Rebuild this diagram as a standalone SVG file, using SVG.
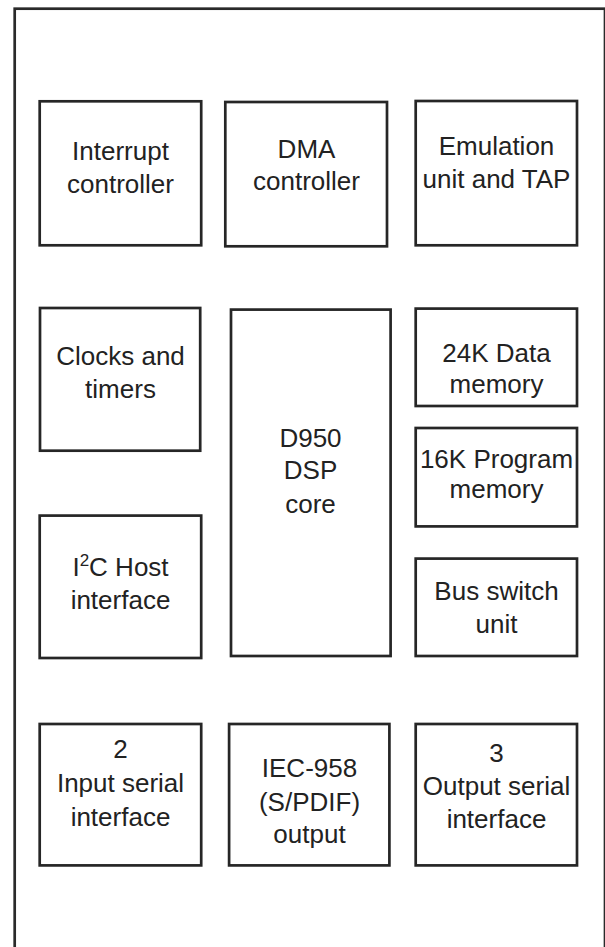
<svg xmlns="http://www.w3.org/2000/svg" width="605" height="947" viewBox="0 0 605 947">
<style>
.frame{fill:none;stroke:#2a2a2a;stroke-width:2.7}
.box{fill:#fff;stroke:#262626;stroke-width:2.7}
.t{font-family:"Liberation Sans",Arial,Helvetica,sans-serif;font-size:26px;fill:#222;text-anchor:middle}
</style>
<rect width="605" height="947" fill="#fff"/>
<rect id="frame" class="frame" x="14.7" y="8.7" width="590.3" height="1000"/>
<g id="connectors"></g>
<g id="interrupt">
<rect class="box" x="39.7" y="101.3" width="161.5" height="144"/>
<text class="t" x="120.5" y="160">Interrupt</text>
<text class="t" x="120.5" y="192.7">controller</text>
</g>
<g id="dma">
<rect class="box" x="225.3" y="102" width="161.7" height="144.3"/>
<text class="t" x="306.5" y="157.7">DMA</text>
<text class="t" x="306.5" y="190">controller</text>
</g>
<g id="emulation">
<rect class="box" x="415.7" y="101" width="161.3" height="144.3"/>
<text class="t" x="496.5" y="155">Emulation</text>
<text class="t" x="496.5" y="187.7">unit and TAP</text>
</g>
<g id="clocks">
<rect class="box" x="40" y="308" width="160.2" height="142.7"/>
<text class="t" x="120.5" y="365.3">Clocks and</text>
<text class="t" x="120.5" y="398.3">timers</text>
</g>
<g id="dsp">
<rect class="box" x="231" y="309.6" width="159.6" height="346.4"/>
<text class="t" x="310.5" y="446.7">D950</text>
<text class="t" x="310.5" y="479.3">DSP</text>
<text class="t" x="310.5" y="512.7">core</text>
</g>
<g id="data-memory">
<rect class="box" x="415.7" y="308.6" width="161.3" height="97.4"/>
<text class="t" x="496.5" y="361.5">24K Data</text>
<text class="t" x="496.5" y="392.5">memory</text>
</g>
<g id="program-memory">
<rect class="box" x="415.7" y="428" width="161.3" height="98.4"/>
<text class="t" x="496.5" y="468.3">16K Program</text>
<text class="t" x="496.5" y="498.3">memory</text>
</g>
<g id="i2c">
<rect class="box" x="39.7" y="515.6" width="161.5" height="142.4"/>
<text class="t" x="120.5" y="576">I<tspan font-size="17" dy="-10">2</tspan><tspan dy="10">C Host</tspan></text>
<text class="t" x="120.5" y="609.3">interface</text>
</g>
<g id="bus-switch">
<rect class="box" x="415.7" y="558.6" width="161.3" height="97.4"/>
<text class="t" x="496.5" y="600">Bus switch</text>
<text class="t" x="496.5" y="633.3">unit</text>
</g>
<g id="input-serial">
<rect class="box" x="39.7" y="724" width="161.5" height="141.4"/>
<text class="t" x="120.5" y="758.3">2</text>
<text class="t" x="120.5" y="791.7">Input serial</text>
<text class="t" x="120.5" y="825.7">interface</text>
</g>
<g id="iec958">
<rect class="box" x="229.1" y="724" width="160.3" height="141.4"/>
<text class="t" x="309.5" y="776.7">IEC-958</text>
<text class="t" x="309.5" y="810.7">(S/PDIF)</text>
<text class="t" x="309.5" y="842.7">output</text>
</g>
<g id="output-serial">
<rect class="box" x="415.7" y="724" width="161.3" height="141.4"/>
<text class="t" x="496.5" y="761.7">3</text>
<text class="t" x="496.5" y="795">Output serial</text>
<text class="t" x="496.5" y="827.7">interface</text>
</g>
</svg>
